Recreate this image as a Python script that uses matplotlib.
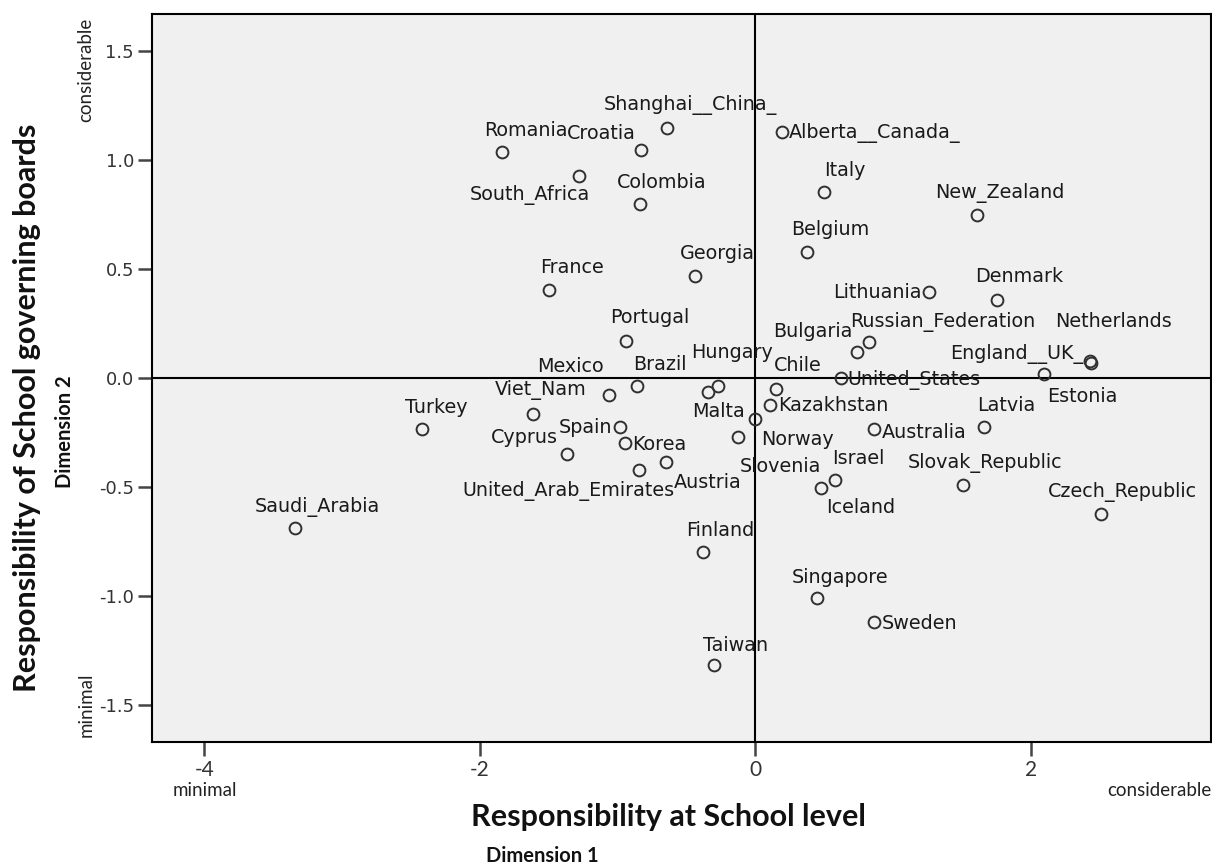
import numpy as np
import matplotlib
matplotlib.use('Agg')
import matplotlib.pyplot as plt

# country positions on the two dimensions
countries = ['Saudi_Arabia', 'Turkey', 'Viet_Nam', 'Mexico', 'Cyprus', 'Spain', 'Korea',
             'United_Arab_Emirates', 'Austria', 'Brazil', 'Portugal', 'Hungary', 'Malta',
             'Norway', 'Slovenia', 'Chile', 'Kazakhstan', 'Bulgaria', 'Russian_Federation',
             'United_States', 'Australia', 'Israel', 'Iceland', 'Latvia', 'Slovak_Republic',
             'Estonia', 'England__UK_', 'Netherlands', 'Czech_Republic', 'Finland',
             'Singapore', 'Sweden', 'Taiwan', 'Romania', 'Croatia', 'Shanghai__China_',
             'South_Africa', 'Colombia', 'France', 'Georgia', 'Alberta__Canada_', 'Italy',
             'Belgium', 'New_Zealand', 'Lithuania', 'Denmark']
dim1 = [-3.34, -2.42, -1.61, -1.06, -1.37, -0.98, -0.944,
        -0.84, -0.646, -0.857, -0.936, -0.27, -0.34,
        0.0, -0.123, 0.152, 0.109, 0.74, 0.83,
        0.62, 0.86, 0.58, 0.48, 1.66, 1.51,
        2.10, 2.44, 2.43, 2.51, -0.38,
        0.45, 0.86, -0.30, -1.84, -0.83, -0.64,
        -1.28, -0.835, -1.50, -0.44, 0.196, 0.50,
        0.377, 1.61, 1.26, 1.757]
dim2 = [-0.69, -0.234, -0.165, -0.078, -0.35, -0.225, -0.30,
        -0.42, -0.385, -0.037, 0.17, -0.037, -0.064,
        -0.188, -0.27, -0.05, -0.124, 0.12, 0.165,
        0.0, -0.234, -0.47, -0.505, -0.225, -0.49,
        0.018, 0.069, 0.078, -0.624, -0.80,
        -1.01, -1.12, -1.317, 1.037, 1.046, 1.147,
        0.927, 0.798, 0.404, 0.468, 1.128, 0.853,
        0.578, 0.748, 0.394, 0.358]

xticks = [-4, -2, 0, 2]
yticks = [-1.5, -1.0, -0.5, 0.0, 0.5, 1.0, 1.5]

# label placement (pixel offsets from the point, like SPSS puts them)
label_pos = {
    'Saudi_Arabia': (22, 21, 'center'), 'Turkey': (14, 22, 'center'),
    'Viet_Nam': (7, 24, 'center'), 'Mexico': (-39, 29, 'center'),
    'Cyprus': (-42, 17, 'center'), 'Spain': (-8, 0, 'right'),
    'Korea': (7, -1, 'left'), 'United_Arab_Emirates': (-71, -21, 'center'),
    'Austria': (42, -21, 'center'), 'Brazil': (23, 22, 'center'),
    'Portugal': (23, 23, 'center'), 'Hungary': (14, 34, 'center'),
    'Malta': (10, -20, 'center'), 'Norway': (42, -21, 'center'),
    'Slovenia': (42, -30, 'center'), 'Chile': (22, 23, 'center'),
    'Kazakhstan': (8, 0, 'left'), 'Bulgaria': (-44, 20, 'center'),
    'Russian_Federation': (73, 20, 'center'), 'United_States': (7, -2, 'left'),
    'Australia': (8, -3, 'left'), 'Israel': (23, 22, 'center'),
    'Iceland': (39, -19, 'center'), 'Latvia': (22, 22, 'center'),
    'Slovak_Republic': (22, 22, 'center'), 'Estonia': (38, -22, 'center'),
    'England__UK_': (-8, 9, 'right'), 'Netherlands': (24, 39, 'center'),
    'Czech_Republic': (22, 22, 'center'), 'Finland': (17, 22, 'center'),
    'Singapore': (23, 21, 'center'), 'Sweden': (8, -1, 'left'),
    'Taiwan': (22, 20, 'center'), 'Romania': (24, 21, 'center'),
    'Croatia': (-40, 17, 'center'), 'Shanghai__China_': (23, 23, 'center'),
    'South_Africa': (-49, -19, 'center'), 'Colombia': (22, 22, 'center'),
    'France': (23, 22, 'center'), 'Georgia': (23, 22, 'center'),
    'Alberta__Canada_': (7, -1, 'left'), 'Italy': (21, 22, 'center'),
    'Belgium': (23, 23, 'center'), 'New_Zealand': (23, 22, 'center'),
    'Lithuania': (-7, 0, 'right'), 'Denmark': (22, 23, 'center'),
}

W, H = 1212, 866
fig = plt.figure(figsize=(W/100, H/100), dpi=100)
ax = fig.add_axes([152/W, 124/H, 1059/W, 728/H])
ax.set_facecolor('#f0f0f0')

ax.axhline(0, color='black', lw=1.5, zorder=1)
ax.axvline(0, color='black', lw=1.5, zorder=1)
ax.plot(dim1, dim2, 'o', mfc='none', mec='#303030', ms=8.5, mew=1.4, zorder=3)

for name, x, y in zip(countries, dim1, dim2):
    dx, dy, ha = label_pos[name]
    ax.annotate(name, (x, y), xytext=(dx, dy), textcoords='offset pixels',
                ha=ha, va='center', fontsize=13.8, color='#1a1a1a',
                family='DejaVu Sans', zorder=4)

ax.set_xlim(-4.38, 3.31)
ax.set_ylim(-1.67, 1.67)
ax.set_xticks(xticks)
ax.set_xticklabels([str(t) for t in xticks], family='Lato', fontsize=15)
ax.set_yticks(yticks)
ax.set_yticklabels(['%.1f' % t for t in yticks], family='DejaVu Sans', fontsize=13)
ax.tick_params(axis='both', direction='out', length=10, width=1.8, color='#444444',
               labelcolor='#333333', pad=3)
for sp in ax.spines.values():
    sp.set_linewidth(1.5)
    sp.set_color('black')

# axis annotations
fig.text(205/W, 1-791/H, 'minimal', ha='center', va='center', family='Lato',
         fontsize=13.5, color='#222222')
fig.text(1211/W, 1-791/H, 'considerable', ha='right', va='center', family='Lato',
         fontsize=13.5, color='#222222')
fig.text(86/W, 1-70/H, 'considerable', ha='center', va='center', rotation=90,
         family='Lato', fontsize=13.5, color='#222222')
fig.text(86/W, 1-705/H, 'minimal', ha='center', va='center', rotation=90,
         family='Lato', fontsize=13.5, color='#222222')

fig.text(668/W, 1-817/H, 'Responsibility at School level', ha='center', va='center',
         family='Lato', fontweight='bold', fontsize=22, color='#111111')
fig.text(542/W, 1-856/H, 'Dimension 1', ha='center', va='center',
         family='Lato', fontweight='bold', fontsize=14.5, color='#111111')
fig.text(27/W, 1-408/H, 'Responsibility of School governing boards', ha='center',
         va='center', rotation=90, family='Lato', fontweight='bold', fontsize=22,
         color='#111111')
fig.text(65/W, 1-432/H, 'Dimension 2', ha='center', va='center', rotation=90,
         family='Lato', fontweight='bold', fontsize=14.5, color='#111111')

fig.savefig('out.png', dpi=100, facecolor='white')
